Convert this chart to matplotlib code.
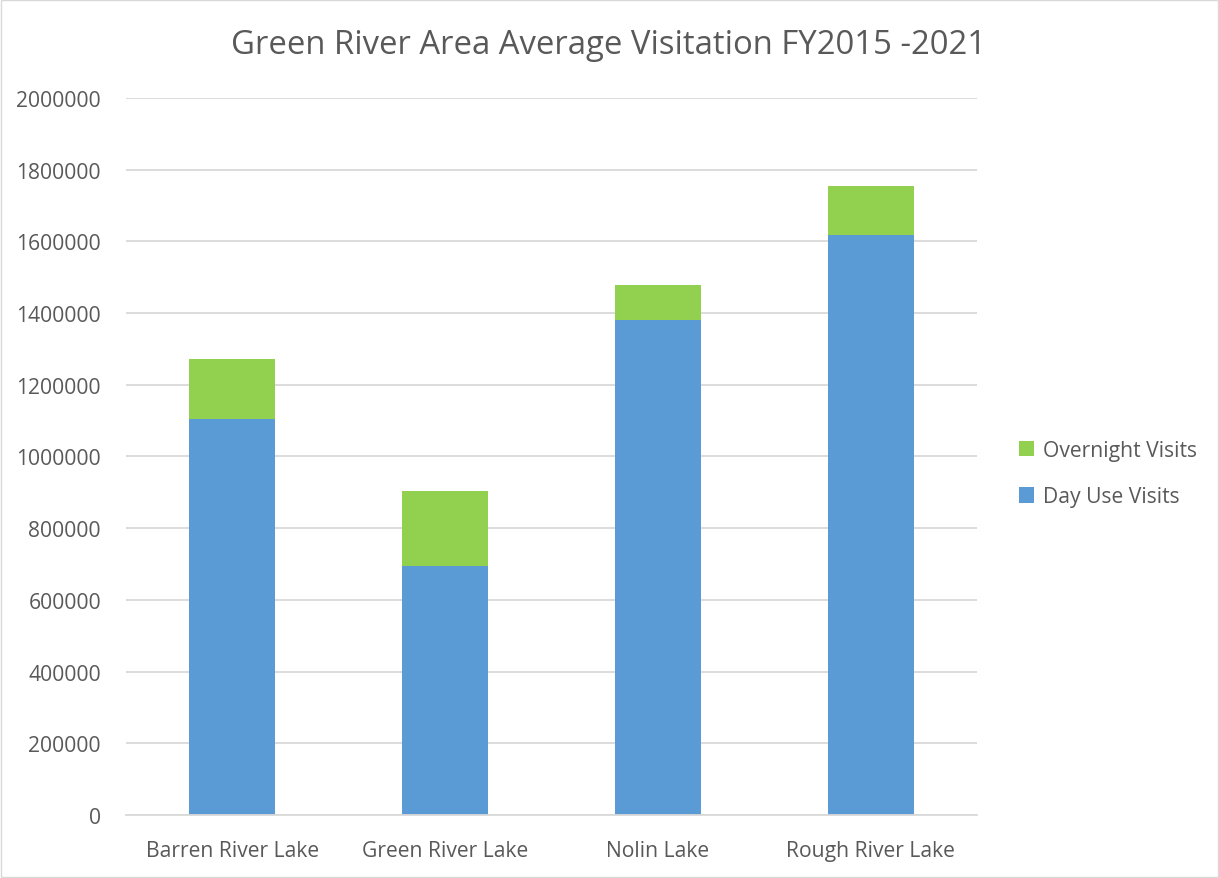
import numpy as np
import matplotlib.pyplot as plt

lakes = ['Barren River Lake', 'Green River Lake', 'Nolin Lake', 'Rough River Lake']
day_use = [1105000, 694000, 1381000, 1618000]
overnight = [167000, 210000, 97000, 137000]
yticks = [0, 200000, 400000, 600000, 800000, 1000000, 1200000, 1400000, 1600000, 1800000, 2000000]

plt.rcParams['font.family'] = ['Open Sans', 'DejaVu Sans']
text_color = '#595959'

fig = plt.figure(figsize=(12.19, 8.79), dpi=100)
ax = fig.add_axes([0.1034, 0.0717, 0.698, 0.8157])

x = np.arange(len(lakes))
ax.bar(x, day_use, width=0.404, color='#5B9BD5', label='Day Use Visits', zorder=2)
ax.bar(x, overnight, width=0.404, bottom=day_use, color='#92D050', label='Overnight Visits', zorder=2)

ax.set_xlim(-0.5, len(lakes) - 0.5)
ax.set_ylim(0, 2000000)
ax.set_yticks(yticks)
ax.set_yticklabels([str(v) for v in yticks])
ax.set_xticks(x)
ax.set_xticklabels(lakes)
ax.tick_params(axis='both', length=0, labelsize=15.2, colors=text_color)
ax.tick_params(axis='y', pad=18)
ax.tick_params(axis='x', pad=18)
ax.grid(axis='y', color='#D9D9D9', linewidth=1.3, zorder=0)
for side in ['top', 'right', 'left']:
    ax.spines[side].set_visible(False)
ax.spines['bottom'].set_color('#D9D9D9')
ax.spines['bottom'].set_linewidth(1.3)

fig.text(0.4996, 0.948, 'Green River Area Average Visitation FY2015 -2021',
         ha='center', va='center', fontsize=23.7, color=text_color)

handles, labels = ax.get_legend_handles_labels()
ax.legend(handles[::-1], labels[::-1], loc='center left', bbox_to_anchor=(0.82, 0.46),
          bbox_transform=fig.transFigure, frameon=False, fontsize=15.2,
          labelcolor=text_color, handlelength=0.75, handleheight=0.75,
          handletextpad=0.4, labelspacing=1.2)

fig.patches.append(plt.Rectangle((0.001, 0.001), 0.998, 0.998, transform=fig.transFigure,
                                 fill=False, edgecolor='#D9D9D9', linewidth=1))

fig.savefig('out.png', dpi=100)
